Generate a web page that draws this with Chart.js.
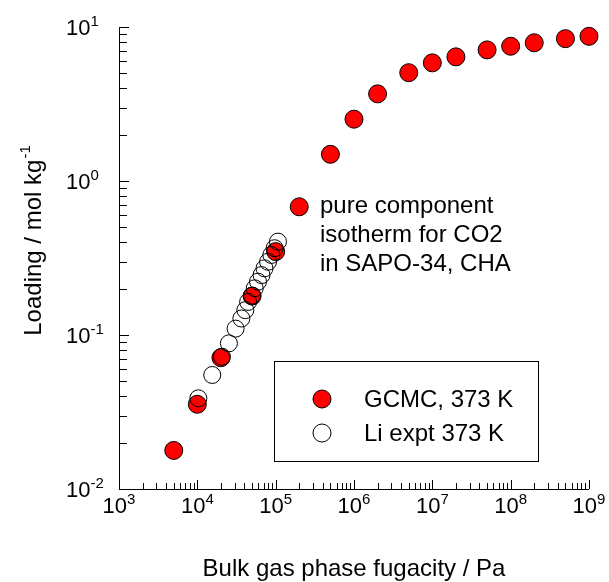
<!DOCTYPE html>
<html>
<head>
<meta charset="utf-8">
<script src="https://cdn.jsdelivr.net/npm/chart.js@4.4.0/dist/chart.umd.min.js"></script>
<style>
  body { margin: 0; background: #fff; }
</style>
</head>
<body>
<canvas id="myChart" width="609" height="582"></canvas>
<script>
/* DATA */

// GCMC, 373 K (filled red)
var gcmcX = [5e3, 1e4, 2e4, 5e4, 1e5, 2e5, 5e5, 1e6, 2e6, 5e6, 1e7, 2e7, 5e7, 1e8, 2e8, 5e8, 1e9];
var gcmcY = [0.0178, 0.0355, 0.0712, 0.179, 0.348, 0.68, 1.49, 2.52, 3.68, 5.05, 5.85, 6.4, 7.1, 7.5, 7.9, 8.4, 8.7];

// Li expt 373 K (open circles)
var liX = [1.03e4, 1.55e4, 2.06e4, 2.53e4, 3.08e4, 3.65e4, 4.1e4, 4.45e4, 5.0e4, 5.4e4, 5.95e4, 6.6e4, 7.2e4, 8.0e4, 8.8e4, 9.7e4, 1.07e5];
var liY = [0.0388, 0.055, 0.0723, 0.0883, 0.110, 0.128, 0.145, 0.164, 0.18, 0.201, 0.222, 0.245, 0.271, 0.299, 0.331, 0.366, 0.404];

// axis decades (tick labels are 10^n)
var xExps = [3, 4, 5, 6, 7, 8, 9];
var yExps = [-2, -1, 0, 1];

var seriesNames = ["GCMC, 373 K", "Li expt 373 K"];
var noteLines = ["pure component", "isotherm for CO2", "in SAPO-34, CHA"];

var FONT = "'Liberation Sans', Arial, sans-serif";

function toPoints(xs, ys) {
  var pts = [];
  for (var i = 0; i < xs.length; i++) {
    pts.push({ x: xs[i], y: ys[i] });
  }
  return pts;
}

// draws "10" with a superscript exponent, returns width
function powWidth(ctx, exp, size, supSize) {
  ctx.font = size + "px " + FONT;
  var w = ctx.measureText("10").width;
  ctx.font = supSize + "px " + FONT;
  return w + ctx.measureText(String(exp)).width;
}

function drawPow(ctx, exp, x, y, size, supSize) {
  ctx.textBaseline = "alphabetic";
  ctx.textAlign = "left";
  ctx.font = size + "px " + FONT;
  ctx.fillText("10", x, y);
  var w = ctx.measureText("10").width;
  ctx.font = supSize + "px " + FONT;
  ctx.fillText(String(exp), x + w, y - 9);
}

var axesPlugin = {
  id: "axesPlugin",
  beforeDatasetsDraw: function (chart) {
    var ctx = chart.ctx;
    var xs = chart.scales.x;
    var ys = chart.scales.y;
    var area = chart.chartArea;
    ctx.save();
    ctx.strokeStyle = "#000";
    ctx.lineWidth = 1;

    // axis lines (left + bottom only)
    ctx.beginPath();
    ctx.moveTo(area.left + 0.5, area.top);
    ctx.lineTo(area.left + 0.5, area.bottom + 0.5);
    ctx.lineTo(area.right, area.bottom + 0.5);
    ctx.stroke();

    // inward ticks
    ctx.beginPath();
    for (var i = 0; i < xExps.length; i++) {
      for (var k = 1; k <= 9; k++) {
        if (i == xExps.length - 1 && k > 1) break;
        var px = Math.round(xs.getPixelForValue(k * Math.pow(10, xExps[i]))) + 0.5;
        var len = (k == 1) ? 9 : 6;
        ctx.moveTo(px, area.bottom);
        ctx.lineTo(px, area.bottom - len);
      }
    }
    for (var j = 0; j < yExps.length; j++) {
      for (var m = 1; m <= 9; m++) {
        if (j == yExps.length - 1 && m > 1) break;
        var py = Math.round(ys.getPixelForValue(m * Math.pow(10, yExps[j]))) + 0.5;
        var len2 = (m == 1) ? 10 : 8;
        ctx.moveTo(area.left, py);
        ctx.lineTo(area.left + len2, py);
      }
    }
    ctx.stroke();

    // tick labels
    ctx.fillStyle = "#000";
    for (var a = 0; a < xExps.length; a++) {
      var tx = xs.getPixelForValue(Math.pow(10, xExps[a]));
      var w = powWidth(ctx, xExps[a], 22, 15);
      drawPow(ctx, xExps[a], tx - w / 2, area.bottom + 24, 22, 15);
    }
    for (var b = 0; b < yExps.length; b++) {
      var ty = ys.getPixelForValue(Math.pow(10, yExps[b]));
      drawPow(ctx, yExps[b], 66, ty + 8, 22, 15);
    }

    // axis titles
    ctx.font = "24px " + FONT;
    ctx.textAlign = "center";
    ctx.textBaseline = "alphabetic";
    ctx.fillText("Bulk gas phase fugacity / Pa", 354, 576);

    ctx.translate(41, 241);
    ctx.rotate(-Math.PI / 2);
    var main = "Loading / mol kg";
    ctx.font = "24px " + FONT;
    var mw = ctx.measureText(main).width;
    ctx.font = "15px " + FONT;
    var sw = ctx.measureText("-1").width;
    var start = -(mw + sw) / 2;
    ctx.textAlign = "left";
    ctx.font = "24px " + FONT;
    ctx.fillText(main, start, 0);
    ctx.font = "15px " + FONT;
    ctx.fillText("-1", start + mw + 1, -11);
    ctx.restore();
  },
  afterDatasetsDraw: function (chart) {
    var ctx = chart.ctx;
    var ds = chart.data.datasets;
    ctx.save();

    // legend box
    ctx.strokeStyle = "#000";
    ctx.lineWidth = 1;
    ctx.strokeRect(274.5, 361.5, 264, 100);
    var rows = [399, 433];
    for (var i = 0; i < 2; i++) {
      ctx.beginPath();
      ctx.arc(322, rows[i], 9, 0, Math.PI * 2);
      ctx.fillStyle = ds[i].backgroundColor;
      ctx.fill();
      ctx.strokeStyle = ds[i].borderColor;
      ctx.stroke();
      ctx.fillStyle = "#000";
      ctx.font = "24px " + FONT;
      ctx.textAlign = "left";
      ctx.textBaseline = "middle";
      ctx.fillText(seriesNames[i], 364, rows[i] + 1);
    }

    // annotation
    ctx.textBaseline = "alphabetic";
    var base = [213, 242, 271];
    for (var n = 0; n < noteLines.length; n++) {
      ctx.fillText(noteLines[n], 320, base[n]);
    }
    ctx.restore();
  }
};

new Chart("myChart", {
  type: "scatter",
  data: {
    datasets: [{
      label: seriesNames[0],
      data: toPoints(gcmcX, gcmcY),
      backgroundColor: "#ff0000",
      borderColor: "#000",
      borderWidth: 1,
      pointRadius: 9,
      clip: false,
      order: 2
    }, {
      label: seriesNames[1],
      data: toPoints(liX, liY),
      backgroundColor: "rgba(255,255,255,0)",
      borderColor: "#000",
      borderWidth: 1,
      pointRadius: 8.5,
      clip: false,
      order: 1
    }]
  },
  options: {
    responsive: false,
    animation: false,
    layout: { padding: { left: 119, right: 20, top: 27, bottom: 93 } },
    plugins: {
      legend: { display: false },
      tooltip: { enabled: false }
    },
    scales: {
      x: { type: "logarithmic", min: 1e3, max: 1e9, display: false },
      y: { type: "logarithmic", min: 1e-2, max: 10, display: false }
    }
  },
  plugins: [axesPlugin]
});
</script>
</body>
</html>
